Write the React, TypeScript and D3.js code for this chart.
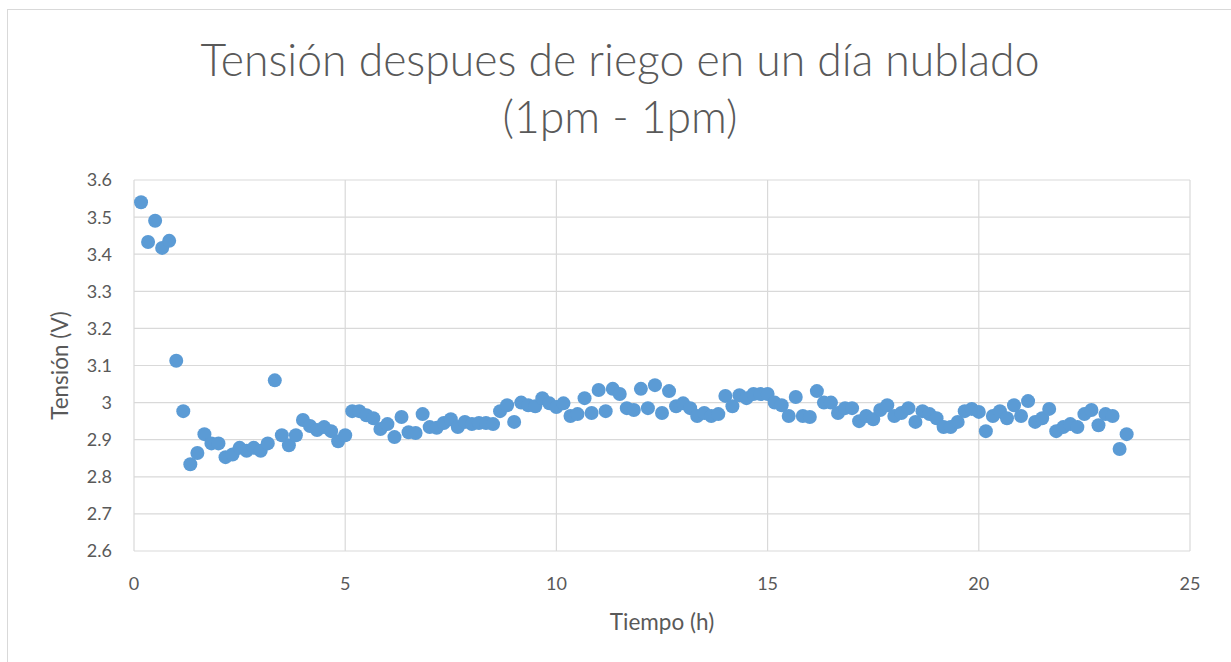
import React from "react";
import * as d3 from "d3";

const voltages: number[] = [
  3.54, 3.433, 3.49, 3.417, 3.436, 3.113, 2.977, 2.834, 2.864, 2.915,
  2.89, 2.89, 2.853, 2.86, 2.878, 2.87, 2.878, 2.87, 2.89, 3.06,
  2.912, 2.885, 2.912, 2.953, 2.937, 2.926, 2.934, 2.923, 2.896, 2.912,
  2.977, 2.977, 2.966, 2.958, 2.929, 2.942, 2.907, 2.961, 2.92, 2.918,
  2.969, 2.934, 2.932, 2.945, 2.955, 2.934, 2.948, 2.942, 2.945, 2.945,
  2.942, 2.977, 2.993, 2.948, 3.0, 2.993, 2.99, 3.012, 2.998, 2.988,
  2.998, 2.964, 2.969, 3.012, 2.972, 3.034, 2.977, 3.037, 3.023, 2.985,
  2.98, 3.037, 2.985, 3.047, 2.972, 3.031, 2.99, 2.998, 2.985, 2.964,
  2.972, 2.964, 2.969, 3.018, 2.99, 3.02, 3.012, 3.023, 3.023, 3.023,
  3.0, 2.993, 2.964, 3.015, 2.964, 2.961, 3.031, 3.0, 3.0, 2.972,
  2.985, 2.985, 2.95, 2.964, 2.955, 2.98, 2.993, 2.964, 2.972, 2.985,
  2.948, 2.977, 2.969, 2.958, 2.934, 2.934, 2.948, 2.977, 2.983, 2.975,
  2.923, 2.964, 2.977, 2.958, 2.993, 2.964, 3.004, 2.948, 2.958, 2.983,
  2.923, 2.934, 2.942, 2.934, 2.969, 2.98, 2.939, 2.969, 2.964, 2.875,
  2.915,
];
// sampling every 10 minutes, starting at 10 min
const times: number[] = voltages.map((_, i) => (i + 1) / 6);

const xTicks = [0, 5, 10, 15, 20, 25];
const yTicks = [2.6, 2.7, 2.8, 2.9, 3.0, 3.1, 3.2, 3.3, 3.4, 3.5, 3.6];

const titleLines = ["Tensión despues de riego en un día nublado", "(1pm - 1pm)"];
const xTitle = "Tiempo (h)";
const yTitle = "Tensión (V)";

export default function App() {
  const W = 1231;
  const H = 662;
  const left = 134, right = 1190, top = 180, bottom = 551;
  const x = d3.scaleLinear().domain([0, 25]).range([left, right]);
  const y = d3.scaleLinear().domain([2.6, 3.6]).range([bottom, top]);
  const font = "Lato, 'Open Sans', sans-serif";
  const grid = "#d9d9d9";
  const text = "#595959";
  const fmt = (v: number) => (Math.abs(v - 3) < 1e-9 ? "3" : d3.format(".1f")(v));

  return (
    <svg width={W} height={H} style={{ position: "absolute", left: 0, top: 0, background: "#fff" }} fontFamily={font}>
      <rect x={7.5} y={9.5} width={W + 10} height={H + 10} fill="#fff" stroke="#d9d9d9" />
      {yTicks.map((t) => (
        <line key={"gy" + t} x1={left} x2={right} y1={y(t)} y2={y(t)} stroke={grid} strokeWidth={1.2} />
      ))}
      {xTicks.map((t) => (
        <line key={"gx" + t} x1={x(t)} x2={x(t)} y1={top} y2={bottom} stroke={grid} strokeWidth={1.2} />
      ))}
      {yTicks.map((t) => (
        <text key={"ty" + t} x={left - 22} y={y(t)} dy="0.36em" textAnchor="end" fontSize={18} fill={text}>
          {fmt(t)}
        </text>
      ))}
      {xTicks.map((t) => (
        <text key={"tx" + t} x={x(t)} y={bottom + 39} textAnchor="middle" fontSize={18} fill={text}>
          {t}
        </text>
      ))}
      {voltages.map((v, i) => (
        <circle key={"p" + i} cx={x(times[i])} cy={y(v)} r={7} fill="#5b9bd5" />
      ))}
      <text x={620} y={76} textAnchor="middle" fontSize={44.5} fontWeight={300} fill={text}>{titleLines[0]}</text>
      <text x={620} y={133} textAnchor="middle" fontSize={44.5} fontWeight={300} fill={text}>{titleLines[1]}</text>
      <text x={662} y={630} textAnchor="middle" fontSize={22.5} fill={text}>{xTitle}</text>
      <text transform={`translate(68,${(top + bottom) / 2}) rotate(-90)`} textAnchor="middle" fontSize={22.5} fill={text}>
        {yTitle}
      </text>
    </svg>
  );
}
